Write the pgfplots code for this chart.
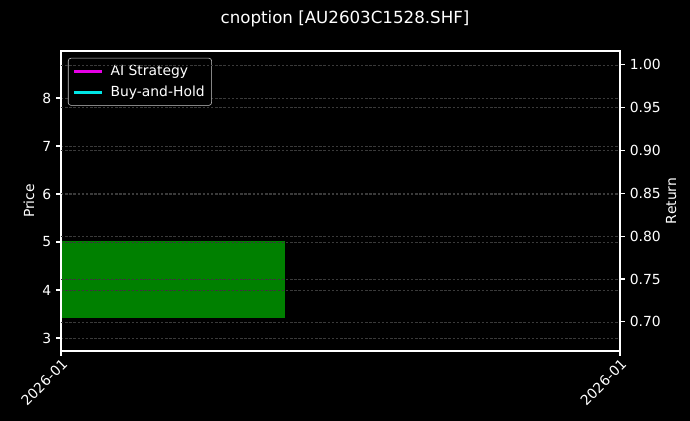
\documentclass[border=0pt]{standalone}
\usepackage{pgfplots}
\pgfplotsset{compat=1.18}
\usepackage{fontspec}
\setmainfont{DejaVu Sans}
\definecolor{gridc}{RGB}{58,58,58}
\definecolor{mygreen}{RGB}{0,128,0}
\definecolor{mymag}{RGB}{230,0,230}
\definecolor{mycyan}{RGB}{0,230,230}
\begin{document}
\begin{tikzpicture}
\fill[black] (0,0) rectangle (496.8pt,303.1pt);
\node[text=white, font=\fontsize{12}{14}\selectfont] at (248.4pt,289.2pt) {cnoption [AU2603C1528.SHF]};
\pgfplotsset{
  every axis/.append style={
    /pgf/number format/assume math mode=true,
    tick label style={text=white, font=\fontsize{10}{12}\selectfont},
    label style={text=white, font=\fontsize{10}{12}\selectfont},
    axis line style={white, line width=0.8pt},
    every tick/.style={white, line width=0.8pt},
    major tick length=3.5pt,
    tick align=outside,
    major grid style={gridc, line width=0.45pt, dash pattern=on 1.8pt off 1.2pt},
  }
}
\begin{axis}[
  at={(43.9pt,50.4pt)}, anchor=south west, scale only axis,
  width=402.5pt, height=216pt,
  xmin=0, xmax=1, ymin=2.73, ymax=8.98,
  xtick={0,1}, xticklabels={2026-01,2026-01},
  x tick label style={rotate=45, anchor=north east, inner sep=1pt},
  ytick={3,4,5,6,7,8},
  yticklabel style={/pgf/number format/fixed},
  ymajorgrids,
  axis on top,
  tick pos=left,
  ylabel={Price},
  ylabel shift=-1pt,
  legend style={at={(0.0125,0.977)}, anchor=north west, fill=black, draw=white!80!black,
    text=white, rounded corners=2pt, font=\fontsize{10}{12}\selectfont,
    row sep=2pt, inner xsep=3pt, inner ysep=3pt},
  legend cell align=left,
  legend image code/.code={\draw[#1] (0cm,0cm) -- (0.72cm,0cm);},
]
\addplot[draw=none, fill=mygreen, forget plot] coordinates {(0,3.42) (0.4,3.42) (0.4,5.03) (0,5.03)} -- cycle;
\addlegendimage{mymag, line width=2pt}
\addlegendentry{\hspace{3pt}AI Strategy}
\addlegendimage{mycyan, line width=2pt}
\addlegendentry{\hspace{3pt}Buy-and-Hold}
\end{axis}
\begin{axis}[
  at={(43.9pt,50.4pt)}, anchor=south west, scale only axis,
  width=402.5pt, height=216pt,
  xmin=0, xmax=1, ymin=0.666, ymax=1.0163,
  axis x line=none,
  axis y line*=right,
  ytick={0.70,0.75,0.80,0.85,0.90,0.95,1.00},
  yticklabel style={/pgf/number format/.cd, fixed, fixed zerofill, precision=2},
  ymajorgrids,
  ylabel={Return},
  ylabel shift=-3pt,
]
\addplot[draw=none] coordinates {(0,0.8)};
\end{axis}
\end{tikzpicture}
\end{document}
